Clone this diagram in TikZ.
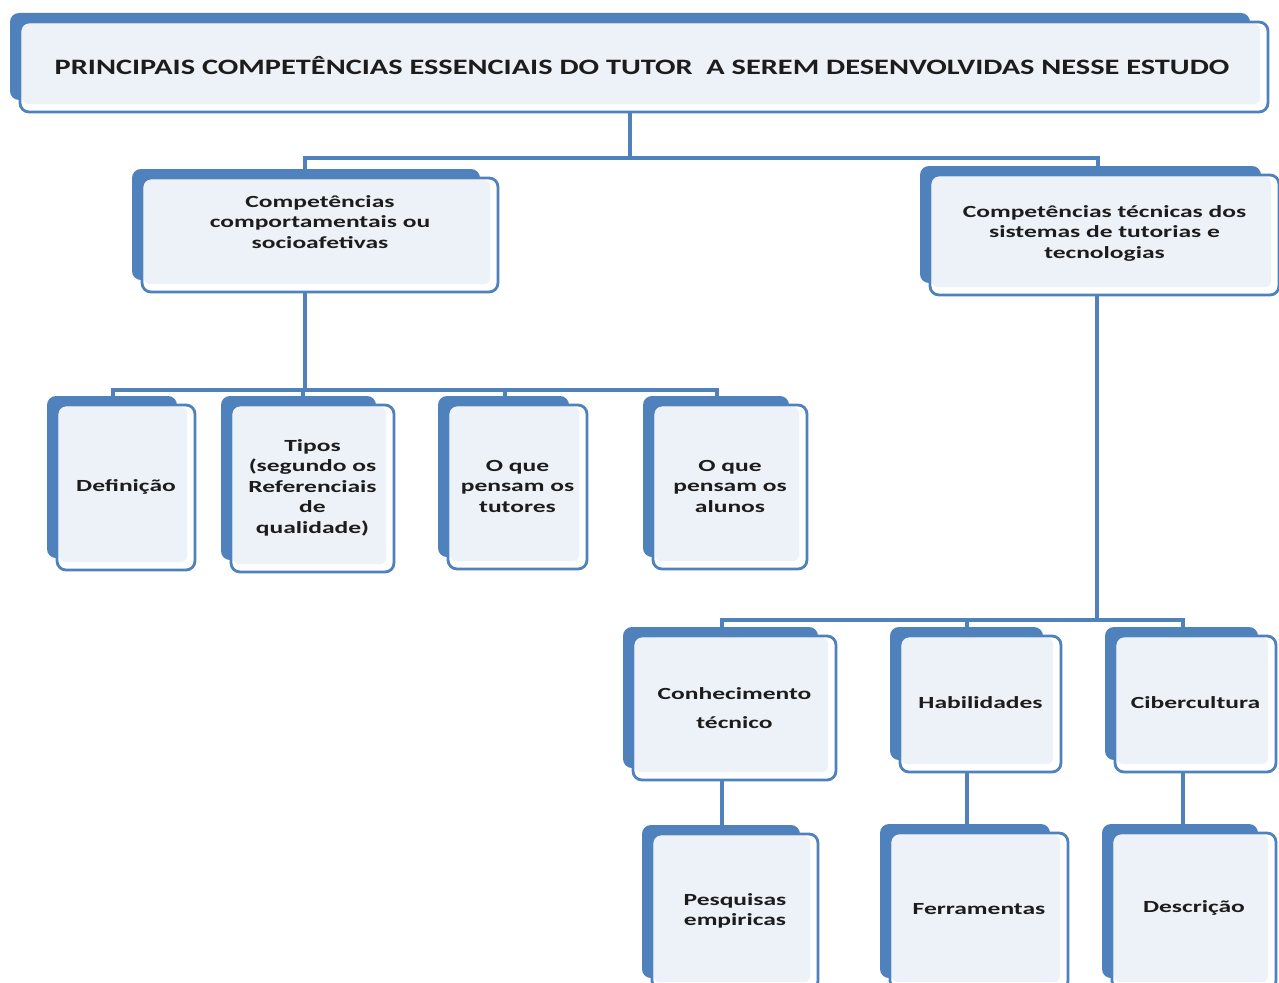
\documentclass[tikz,border=0pt]{standalone}
\usepackage{fontspec}
\newfontfamily\boxfont{Carlito}[FakeStretch=1.5]
\newfontfamily\titlefont{Carlito}[FakeStretch=1.38]
\definecolor{ablue}{HTML}{4F81BD}
\definecolor{backc}{HTML}{4F81BD}
\definecolor{innerc}{HTML}{EDF1F8}
\definecolor{txtc}{HTML}{1C1C1C}
\tikzset{
  conn/.style={draw=ablue, line width=3.8pt},
  frontbox/.style={draw=ablue, line width=2.8pt, fill=white, rounded corners=9pt, inner sep=0pt,
    path picture={\fill[innerc, rounded corners=6pt]
      ([shift={(2pt,-2pt)}]path picture bounding box.north west) rectangle
      ([shift={(-8pt,8pt)}]path picture bounding box.south east);}},
  boxtext/.style={align=center, inner sep=0pt, text=txtc, font=\boxfont\bfseries\fontsize{17}{20.5}\selectfont},
}
\newcommand\tbox[7]{%
  \fill[backc, rounded corners=9pt] ({#2-10},{#3-9}) rectangle ({#4-18},{#5-12});
  \node[frontbox, minimum width={(#4-#2)*1pt}, minimum height={(#5-#3)*1pt}] (#1) at ({(#2+#4)/2},{(#3+#5)/2}) {};
  \node[boxtext] (#1-t) at ([yshift=#6pt]#1.center) {#7};
}
\begin{document}
\begin{tikzpicture}[x=1pt,y=-1pt]
\useasboundingbox (0,0) rectangle (1279,982);
\clip (0,0) rectangle (1279,982);
\fill[white] (0,0) rectangle (1279,982);

\coordinate (b1) at (630,158);
\coordinate (b2) at (305,390);
\coordinate (b3) at (1097,620);
\foreach \xx in {113,303,305,505,717,722,967,1098,1183}{\coordinate (x\xx) at (\xx,0);}

% title
\tbox{top}{20}{22}{1268}{112}{0}{}
\node[align=center, inner sep=0pt, text=txtc, font=\titlefont\bfseries\fontsize{22}{26}\selectfont] (top-tt) at ([xshift=-2pt,yshift=1pt]top.center) {PRINCIPAIS COMPETÊNCIAS ESSENCIAIS DO TUTOR~ A SEREM DESENVOLVIDAS NESSE ESTUDO};

\tbox{cc}{142}{178}{498}{292}{13}{Competências\\comportamentais ou\\socioafetivas}
\tbox{ct}{930}{175}{1279}{295}{2}{Competências técnicas dos\\sistemas de tutorias e\\tecnologias}

\tbox{def}{57}{405}{195}{570}{1}{Definição}
\tbox{tip}{231}{405}{394}{572}{1}{Tipos\\(segundo os\\Referenciais\\de\\qualidade)}
\tbox{tut}{448}{405}{587}{569}{1}{O que\\pensam os\\tutores}
\tbox{alu}{653}{405}{807}{569}{1}{O que\\pensam os\\alunos}

\tbox{con}{633}{636}{836}{780}{0}{Conhecimento\\[8pt]técnico}
\tbox{hab}{900}{636}{1061}{772}{1}{Habilidades}
\tbox{cib}{1115}{636}{1276}{772}{1}{Cibercultura}

\tbox{pes}{652}{834}{818}{990}{1}{Pesquisas\\empiricas}
\tbox{fer}{890}{833}{1068}{990}{2}{Ferramentas}
\tbox{des}{1112}{833}{1276}{990}{4}{Descrição}

% connectors
\draw[conn] (top.south -| b1) -- (b1);
\draw[conn] (cc.north -| x305) |- (b1) -| (ct.north -| x1098);
\draw[conn] (cc.south -| b2) -- (b2);
\draw[conn] (def.north -| x113) |- (b2) -| (alu.north -| x717);
\draw[conn] (tip.north -| x303) -- (b2 -| x303);
\draw[conn] (tut.north -| x505) -- (b2 -| x505);
\draw[conn] (ct.south -| b3) -- (b3);
\draw[conn] (con.north -| x722) |- (b3) -| (cib.north -| x1183);
\draw[conn] (hab.north -| x967) -- (b3 -| x967);
\draw[conn] (con.south -| x722) -- (pes.north -| x722);
\draw[conn] (hab.south -| x967) -- (fer.north -| x967);
\draw[conn] (cib.south -| x1183) -- (des.north -| x1183);
\end{tikzpicture}
\end{document}
